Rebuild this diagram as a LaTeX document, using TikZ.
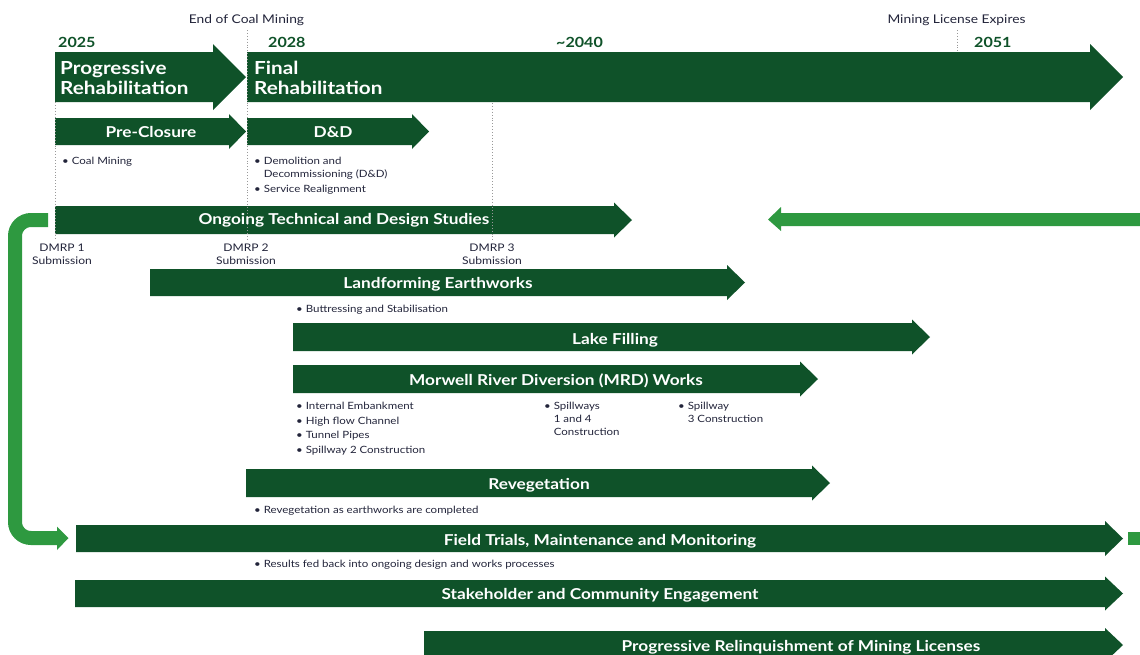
\documentclass[tikz,border=0pt]{standalone}
\usepackage{fontspec}
\setmainfont{Lato}[FakeStretch=1.15]
\definecolor{dkg}{HTML}{0F5229}
\definecolor{ltg}{HTML}{2E9940}
\definecolor{navy}{HTML}{22243A}
% #1 left x, #2 head start x, #3 tip x, #4 centre y, #5 body half height, #6 head half height
\newcommand\barshape[6]{%
  \fill[dkg] (#1,#4-#5) -- (#2,#4-#5) -- (#2,#4-#6) -- (#3,#4) -- (#2,#4+#6) -- (#2,#4+#5) -- (#1,#4+#5) -- cycle;}
\begin{document}
\begin{tikzpicture}[x=1pt,y=-1pt,
  bartext/.style={text=white, font=\bfseries\fontsize{15}{18}\selectfont, inner sep=0pt},
  bigtext/.style={text=white, font=\bfseries\fontsize{18}{19.5}\selectfont, align=left, anchor=north west, inner sep=0pt},
  yearlab/.style={text=dkg, font=\bfseries\fontsize{14}{16}\selectfont, inner sep=0pt},
  milelab/.style={text=navy, font=\fontsize{12}{14}\selectfont, inner sep=0pt},
  note/.style={text=navy, font=\fontsize{10}{13}\selectfont, align=left, anchor=north west, inner sep=0pt},
  dmrp/.style={text=navy, font=\fontsize{10.5}{12.8}\selectfont, align=center, anchor=north, inner sep=0pt},
  guide/.style={gray!80, dotted, line width=0.9pt},
  feedback/.style={ltg, line width=14pt, rounded corners=16pt}]
\useasboundingbox (0,0) rectangle (1140,654);

% ---- bars
\barshape{55}{213}{246}{77}{25}{33}
\barshape{247}{1090}{1123}{77}{25}{33}
\barshape{55}{229}{246}{131.5}{13.5}{17.5}
\barshape{247}{412}{429}{131.5}{13.5}{17.5}
\barshape{55}{614}{632}{220}{14}{17.5}
\barshape{150}{727}{745}{282.5}{13.5}{17.5}
\barshape{293}{912}{930}{337}{14}{17.5}
\barshape{293}{800}{818}{379}{14}{17.5}
\barshape{246}{812}{830}{483}{14}{17.5}
\barshape{76}{1105}{1123}{538.5}{13.5}{17.5}
\barshape{75}{1105}{1123}{593.5}{13.5}{17}
\barshape{424}{1105}{1123}{645}{14}{17}

% ---- feedback arrows
\coordinate (fbstart) at (48,220);
\coordinate (fbend) at (57,538);
\draw[feedback] (fbstart) -- (15,220) -- (15,538) -- (fbend);
\fill[ltg] (57,526.5) -- (68.5,538) -- (57,550) -- cycle;
\fill[ltg] (1140,213) -- (781,213) -- (781,207) -- (768,219.5) -- (781,231) -- (781,226) -- (1140,226) -- cycle;
\fill[ltg] (1128,532) rectangle (1140,545);

% ---- guides
\draw[guide] (55,102) -- (55,240);
\draw[guide] (247,30) -- (247,240);
\draw[guide] (492,103) -- (492,240);
\draw[guide] (957,30) -- (957,52);

% ---- timeline labels
\node[milelab] (endcoal) at (246.5,20) {End of Coal Mining};
\node[milelab] (licexp) at (956.5,20) {Mining License Expires};
\node[yearlab, anchor=west] (y2025) at (58,42) {2025};
\node[yearlab, anchor=west] (y2028) at (268,42) {2028};
\node[yearlab, anchor=west] (y2040) at (556,42) {\textasciitilde2040};
\node[yearlab, anchor=west] (y2051) at (974,42) {2051};

% ---- bar texts
\node[bigtext] (progreh) at (60,61) {Progressive\\Rehabilitation};
\node[bigtext] (finalreh) at (254,61) {Final\\Rehabilitation};
\node[bartext] (preclos) at (151,132) {Pre-Closure};
\node[bartext] (dd) at (333,132) {D\&D};
\node[bartext] (ongoing) at (344,220.5) {Ongoing Technical and Design Studies};
\node[bartext] (landf) at (438,284.5) {Landforming Earthworks};
\node[bartext] (lake) at (615,340) {Lake Filling};
\node[bartext] (mrd) at (556,381) {Morwell River Diversion (MRD) Works};
\node[bartext] (reveg) at (539,485) {Revegetation};
\node[bartext] (field) at (600,541) {Field Trials, Maintenance and Monitoring};
\node[bartext] (stake) at (600,595) {Stakeholder and Community Engagement};
\node[bartext] (relinq) at (801,647) {Progressive Relinquishment of Mining Licenses};

% ---- notes
\node[note] (n1) at (62,157) {\textbullet\ Coal Mining};
\node[note, font=\fontsize{10}{14}\selectfont] (n2) at (254,157) {\textbullet\ Demolition and\\[-1pt]\phantom{\textbullet\ }Decommissioning (D\&D)\\[1pt]\textbullet\ Service Realignment};
\node[note] (n3) at (296,305) {\textbullet\ Buttressing and Stabilisation};
\node[note, font=\fontsize{10}{14.7}\selectfont] (n4) at (296,402) {\textbullet\ Internal Embankment\\\textbullet\ High flow Channel\\\textbullet\ Tunnel Pipes\\\textbullet\ Spillway 2 Construction};
\node[note] (n5) at (544,402) {\textbullet\ Spillways\\\phantom{\textbullet\ }1 and 4\\\phantom{\textbullet\ }Construction};
\node[note] (n6) at (678,402) {\textbullet\ Spillway\\\phantom{\textbullet\ }3 Construction};
\node[note] (n7) at (254,506) {\textbullet\ Revegetation as earthworks are completed};
\node[note] (n8) at (254,560) {\textbullet\ Results fed back into ongoing design and works processes};

% ---- DMRP labels
\node[dmrp] (d1) at (62,244) {DMRP 1\\Submission};
\node[dmrp] (d2) at (246,244) {DMRP 2\\Submission};
\node[dmrp] (d3) at (492,244) {DMRP 3\\Submission};
\end{tikzpicture}
\end{document}
